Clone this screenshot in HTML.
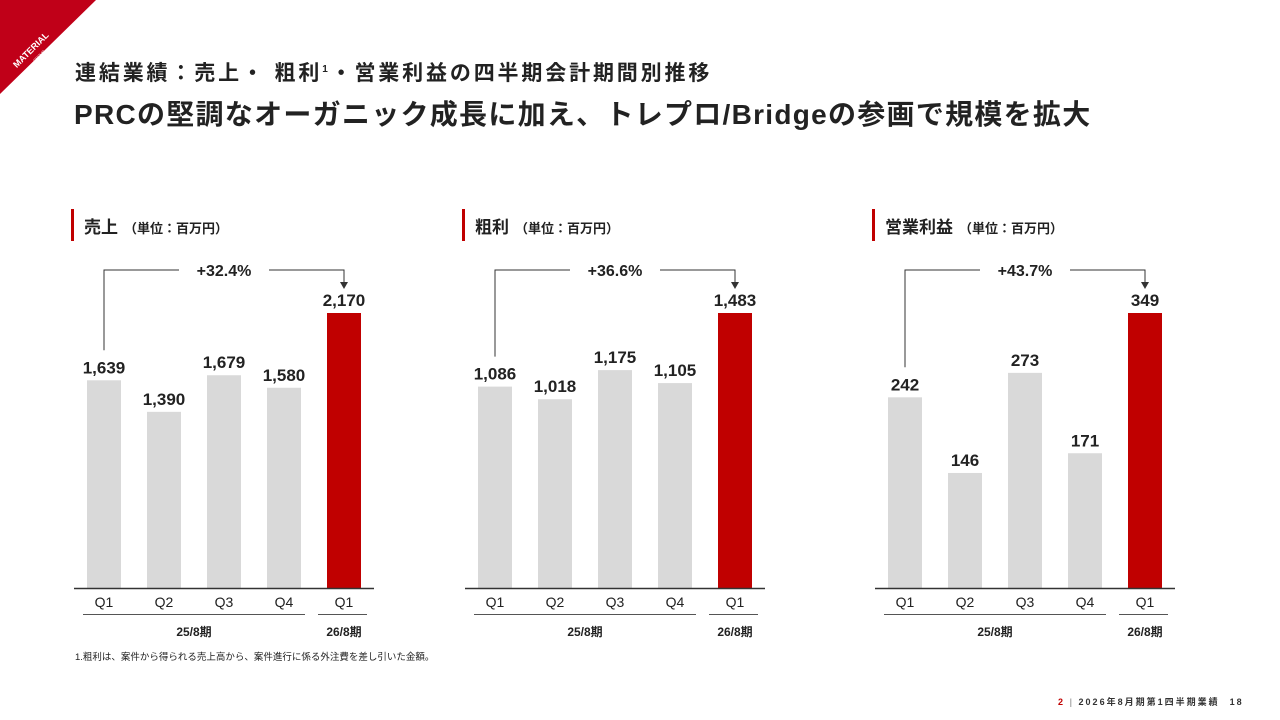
<!DOCTYPE html>
<html><head><meta charset="utf-8">
<style>
body{margin:0;width:1280px;height:720px;background:#fff;overflow:hidden;font-family:"Liberation Sans","Noto Sans CJK JP",sans-serif;}
svg{position:absolute;left:0;top:0}
</style></head>
<body>
<svg id="s" width="1280" height="720" font-family="'Liberation Sans','Noto Sans CJK JP',sans-serif">
<g>
<polygon points="0,0 96,0 0,94" fill="#c00018"/>
<text x="0" y="0" transform="translate(33,52) rotate(-45)" fill="#fff" font-size="9" font-weight="bold" text-anchor="middle">MATERIAL</text>
<text x="0" y="0" transform="translate(40,57) rotate(-45)" fill="#fff" font-size="4" text-anchor="middle">GROUP</text>
</g>
<text x="75" y="80" font-size="21" font-weight="bold" fill="#222" letter-spacing="2.85">連結業績：売上・ 粗利<tspan font-size="10" dy="-8">1</tspan><tspan dy="8">・営業利益の四半期会計期間別推移</tspan></text>
<text x="74" y="124" font-size="28" font-weight="bold" fill="#222" letter-spacing="1.28">PRCの堅調なオーガニック成長に加え、トレプロ/Bridgeの参画で規模を拡大</text>
<text x="75" y="660" font-size="9.5" fill="#222">1.粗利は、案件から得られる売上高から、案件進行に係る外注費を差し引いた金額。</text>
<text x="1058" y="705" font-size="9" font-weight="bold" fill="#333" letter-spacing="2"><tspan fill="#c00000">2</tspan><tspan fill="#aaa"> | </tspan>2026年8月期第1四半期業績<tspan dx="10">18</tspan></text>
</svg>
<script>
const categories=["Q1","Q2","Q3","Q4","Q1"];
const sales=[1639,1390,1679,1580,2170];
const gross=[1086,1018,1175,1105,1483];
const op=[242,146,273,171,349];
const titles=["売上","粗利","営業利益"];
const growth=["+32.4%","+36.6%","+43.7%"];
const periods=["25/8期","26/8期"];
const S=document.getElementById('s');const NS='http://www.w3.org/2000/svg';
function mk(t,a,txt){const e=document.createElementNS(NS,t);for(const k in a)e.setAttribute(k,a[k]);if(txt!==undefined)e.textContent=txt;S.appendChild(e);return e;}
const fmt=v=>v.toLocaleString('en-US');
const offsets=[0,391,801];
[sales,gross,op].forEach((vals,ci)=>{
 const ox=offsets[ci];const base=588,top=313;
 const max=Math.max(...vals);
 const y=v=>base-(v/max)*(base-top);
 const xc=i=>ox+104+i*60;
 let e=mk('rect',{x:ox+71,y:209,width:3,height:32,fill:'#c00000'});
 
 e=mk('text',{x:ox+84,y:233,'font-size':17,'font-weight':'bold',fill:'#222'});
 e.innerHTML=titles[ci]+'<tspan font-size="13" dx="6">（単位：百万円）</tspan>';
 
 vals.forEach((v,i)=>{
  const r=mk('rect',{x:xc(i)-17,y:y(v),width:34,height:base-y(v),fill:i===4?'#c00000':'#d9d9d9'});
  
  
  const t=mk('text',{x:xc(i),y:y(v)-7,'font-size':17,'font-weight':'bold','text-anchor':'middle',fill:'#222'},fmt(v));
  
  
  const q=mk('text',{x:xc(i),y:607,'font-size':14,'text-anchor':'middle',fill:'#222'},categories[i]);
  
  
 });
 e=mk('line',{x1:ox+74,x2:ox+374,y1:588.5,y2:588.5,stroke:'#333','stroke-width':1.5});
 
 mk('line',{x1:ox+83,x2:ox+305,y1:614.5,y2:614.5,stroke:'#555'});
 mk('line',{x1:ox+318,x2:ox+367,y1:614.5,y2:614.5,stroke:'#555'});
 e=mk('text',{x:ox+194,y:636,'font-size':12,'font-weight':'bold','text-anchor':'middle',fill:'#222'},periods[0]);
 
 e=mk('text',{x:ox+344,y:636,'font-size':12,'font-weight':'bold','text-anchor':'middle',fill:'#222'},periods[1]);
 
 const ay=270;
 e=mk('polyline',{points:`${xc(0)},${y(vals[0])-30} ${xc(0)},${ay} ${ox+179},${ay}`,fill:'none',stroke:'#333'});
 
 mk('polyline',{points:`${ox+269},${ay} ${xc(4)},${ay} ${xc(4)},${ay+14}`,fill:'none',stroke:'#333'});
 mk('polygon',{points:`${xc(4)-4},${ay+12} ${xc(4)+4},${ay+12} ${xc(4)},${ay+19}`,fill:'#333'});
 e=mk('text',{x:ox+224,y:ay+6,'font-size':16,'font-weight':'bold','text-anchor':'middle',fill:'#222'},growth[ci]);
 
});
</script>
</body></html>
